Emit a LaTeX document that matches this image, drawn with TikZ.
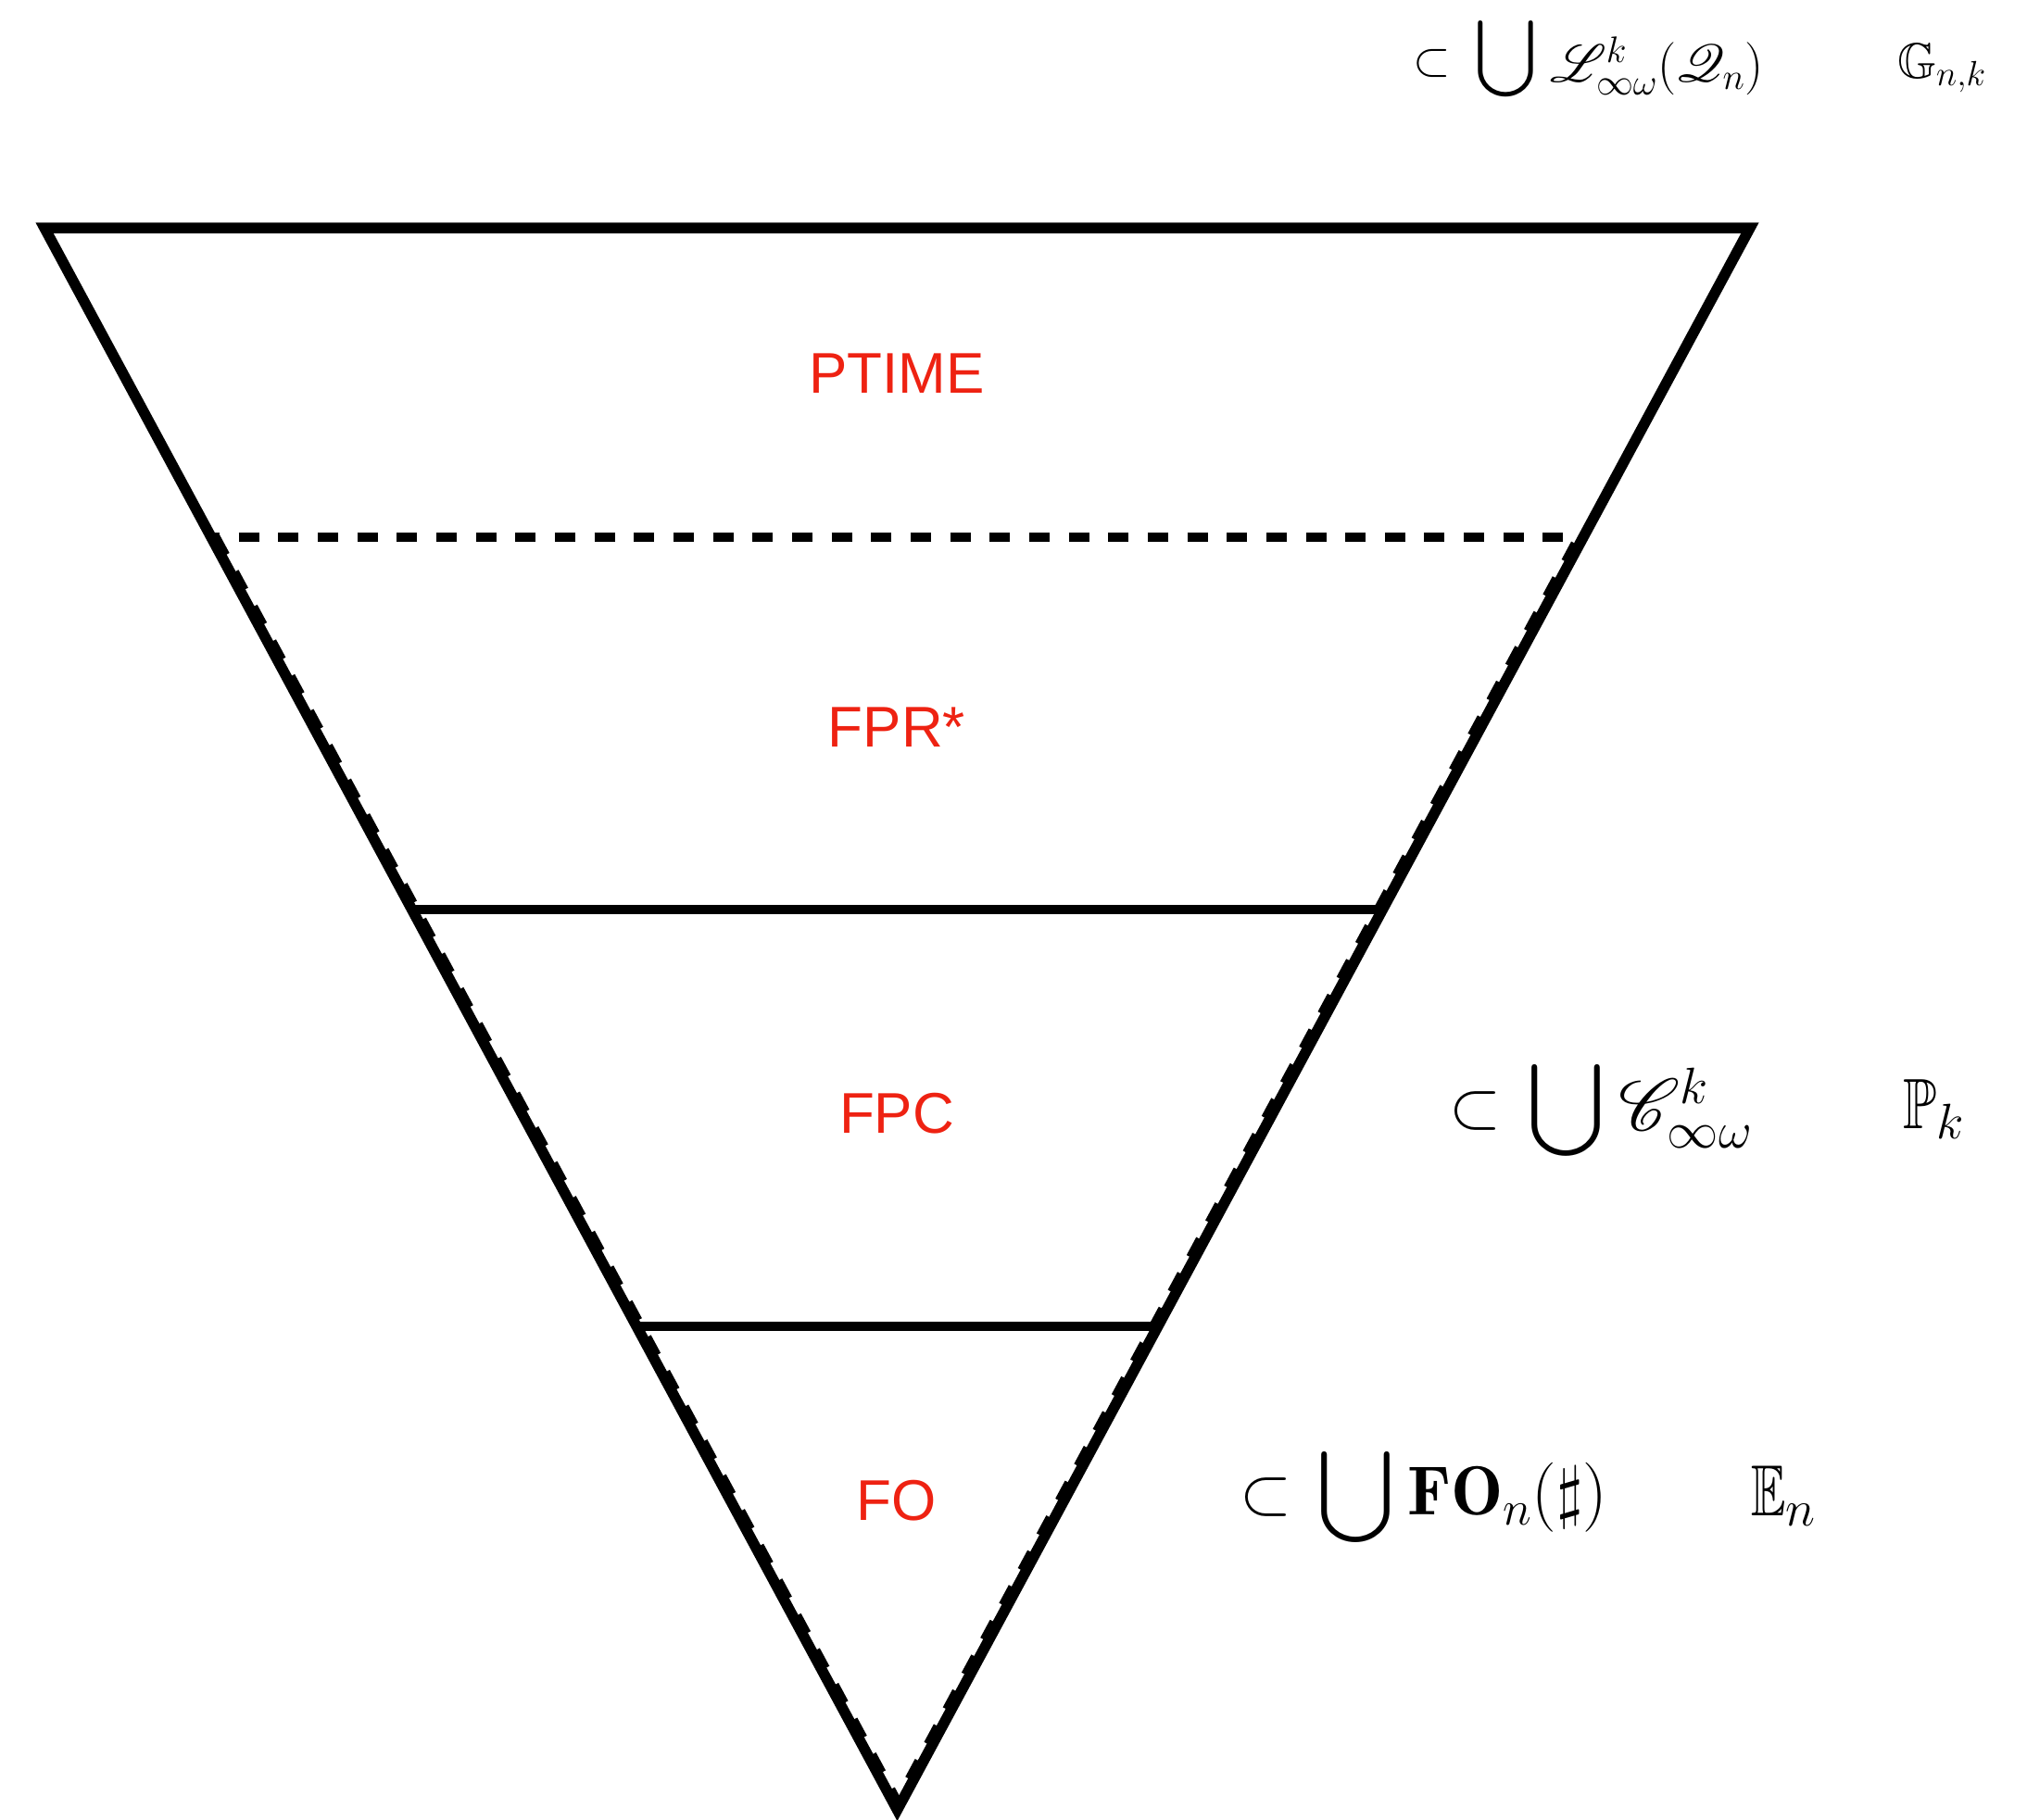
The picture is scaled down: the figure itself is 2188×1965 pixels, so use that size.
\RequirePackage{fix-cm}
\documentclass[tikz,border=0pt]{standalone}
\usepackage{amsmath,amssymb,mathrsfs}
\DeclareFontFamily{U}{rsfs}{\skewchar\font127 }
\DeclareFontShape{U}{rsfs}{m}{n}{<-6>rsfs5<6-8>rsfs7<8->rsfs10}{}
\usepackage{fontspec}
\usepackage{graphicx}
\usetikzlibrary{calc}
\newfontfamily\labelfont{Liberation Sans}
\definecolor{labred}{RGB}{238,34,18}
\begin{document}
\begin{tikzpicture}[x=1pt,y=-1pt,
  tri/.style={line width=11.5pt,line join=miter,black},
  sepline/.style={line width=10pt,black},
  dashline/.style={line width=10pt,black,dash pattern=on 22pt off 20.66pt},
  lab/.style={anchor=base,inner sep=0pt,text=labred,font=\labelfont\fontsize{62}{74}\selectfont},
  mth/.style={inner sep=0pt}]
\useasboundingbox (0,0) rectangle (2188,1965);
\coordinate (A) at (48,246);
\coordinate (B) at (1889,246);
\coordinate (V) at (968.5,1954);
\coordinate (L0) at ($(A)!0.19555!(V)$);
\coordinate (R0) at ($(B)!0.19555!(V)$);
\coordinate (L1) at ($(A)!0.4309!(V)$);
\coordinate (R1) at ($(B)!0.4309!(V)$);
\coordinate (L2) at ($(A)!0.6944!(V)$);
\coordinate (R2) at ($(B)!0.6944!(V)$);
\coordinate (L0i) at ($(L0)+(4.8,0)$);
\coordinate (R0i) at ($(R0)+(-4.8,0)$);
\coordinate (Vi) at ($(V)+(0,-8.9)$);
% triangle
\draw[tri] (A) -- (B) -- (V) -- cycle;
% dashed overlay along the sides
\draw[dashline,line join=miter] (L0i) -- (Vi) -- (R0i);
% separators
\draw[dashline,dash phase=13pt] (L0) -- (R0);
\draw[sepline] (L1) -- (R1);
\draw[sepline] (L2) -- (R2);
% class labels
\node[lab] (ptime) at (968,424) {PTIME};
\node[lab] (fpr) at (968,806) {FPR*};
\node[lab] (fpc) at (968,1223) {FPC};
\node[lab] (fo) at (968,1641) {FO};
% top row
\node[mth,anchor=center,font=\fontsize{52}{62}\selectfont] (sub1) at (1546,68) {$\subset$};
\node[mth,anchor=center] (cup1) at (1625.5,64) {\resizebox*{66pt}{94pt}{$\displaystyle\bigcup$}};
\node[mth,anchor=base west,font=\fontsize{57}{68}\selectfont] (lang1) at (1673,88) {$\mathscr{L}^k_{\infty\omega}(\mathscr{Q}_n)$};
\node[mth,anchor=base west,font=\fontsize{54}{64}\selectfont] (gnk) at (2048,84) {$\mathbb{G}_{n,k}$};
% middle row
\node[mth,anchor=center,font=\fontsize{72}{86}\selectfont] (sub2) at (1592.5,1199) {$\subset$};
\node[mth,anchor=center] (cup2) at (1690,1198.5) {\resizebox*{82pt}{113pt}{$\displaystyle\bigcup$}};
\node[mth,anchor=base west,font=\fontsize{79}{94}\selectfont] (lang2) at (1747,1220) {$\mathscr{C}^k_{\infty\omega}$};
\node[mth,anchor=base west,font=\fontsize{77}{92}\selectfont] (pk) at (2054,1218) {$\scalebox{0.77}[1]{$\mathbb{P}$}_k$};
% bottom row
\node[mth,anchor=center,font=\fontsize{72}{86}\selectfont] (sub3) at (1366,1616) {$\subset$};
\node[mth,anchor=center] (cup3) at (1463,1616) {\resizebox*{82pt}{112pt}{$\displaystyle\bigcup$}};
\node[mth,anchor=base west,font=\fontsize{75}{90}\selectfont] (lang3) at (1519,1635) {$\mathbf{FO}_n(\sharp)$};
\node[mth,anchor=base west,font=\fontsize{78}{94}\selectfont] (en) at (1890,1636) {$\scalebox{0.72}[1]{$\mathbb{E}$}_n$};
\end{tikzpicture}
\end{document}
